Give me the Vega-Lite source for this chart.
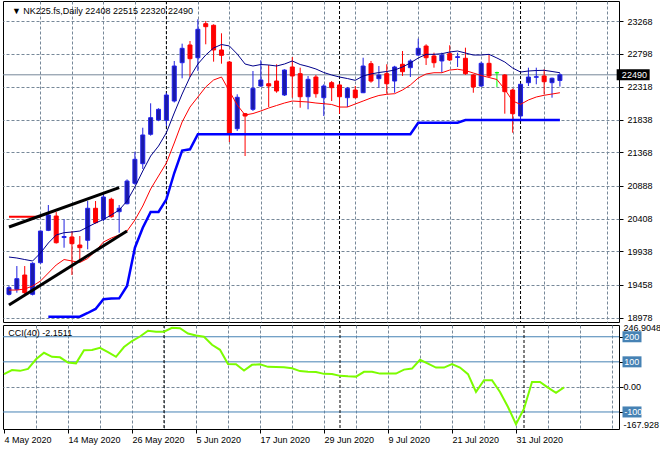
{
  "$schema": "https://vega.github.io/schema/vega-lite/v6.json",
  "padding": {"left": 2, "top": 0, "right": 0, "bottom": 0},
  "background": "white",
  "spacing": 3,
  "bounds": "flush",
  "config": {
    "font": "Liberation Sans",
    "view": {"stroke": "#000000", "strokeWidth": 1},
    "axis": {"labelFont": "Liberation Sans", "labelFontSize": 9, "labelColor": "#000000", "tickColor": "#000000", "gridColor": "#778899", "gridDash": [3, 2], "gridWidth": 1, "domain": false, "labelOverlap": false, "tickCount": 100}
  },
  "datasets": {
    "bars": [
      {"i":0,"o":19316,"h":19440,"l":19300,"c":19412,"m1":19855,"m2":19378,"lo":null,"cci":51},
      {"i":1,"o":19388,"h":19725,"l":19339,"c":19542,"m1":19841,"m2":19378,"lo":null,"cci":67},
      {"i":2,"o":19595,"h":19725,"l":19320,"c":19339,"m1":19819,"m2":19393,"lo":null,"cci":64},
      {"i":3,"o":19316,"h":19780,"l":19300,"c":19764,"m1":19798,"m2":19436,"lo":null,"cci":72},
      {"i":4,"o":19773,"h":20240,"l":19760,"c":20231,"m1":19913,"m2":19508,"lo":null,"cci":110},
      {"i":5,"o":20241,"h":20607,"l":20230,"c":20463,"m1":20058,"m2":19624,"lo":18992,"cci":136},
      {"i":6,"o":20448,"h":20506,"l":20050,"c":20062,"m1":20174,"m2":19740,"lo":18992,"cci":120},
      {"i":7,"o":20137,"h":20401,"l":19990,"c":20152,"m1":20207,"m2":19819,"lo":18992,"cci":118},
      {"i":8,"o":20145,"h":20231,"l":19595,"c":20048,"m1":20217,"m2":19798,"lo":18992,"cci":97},
      {"i":9,"o":20029,"h":20159,"l":19798,"c":19990,"m1":20231,"m2":19776,"lo":18992,"cci":94},
      {"i":10,"o":20097,"h":20665,"l":19967,"c":20560,"m1":20289,"m2":19834,"lo":19046,"cci":146},
      {"i":11,"o":20560,"h":20665,"l":20337,"c":20352,"m1":20347,"m2":19942,"lo":19104,"cci":147},
      {"i":12,"o":20401,"h":20785,"l":20376,"c":20723,"m1":20398,"m2":20072,"lo":19244,"cci":156},
      {"i":13,"o":20690,"h":20713,"l":20424,"c":20438,"m1":20463,"m2":20130,"lo":19255,"cci":139},
      {"i":14,"o":20511,"h":20607,"l":20207,"c":20560,"m1":20535,"m2":20174,"lo":19258,"cci":120},
      {"i":15,"o":20626,"h":20978,"l":20617,"c":20954,"m1":20665,"m2":20231,"lo":19436,"cci":159},
      {"i":16,"o":20921,"h":21378,"l":20900,"c":21268,"m1":20868,"m2":20390,"lo":19990,"cci":183},
      {"i":17,"o":21205,"h":21725,"l":21128,"c":21620,"m1":21099,"m2":20593,"lo":20279,"cci":201},
      {"i":18,"o":21630,"h":22078,"l":21610,"c":21870,"m1":21316,"m2":20839,"lo":20506,"cci":224},
      {"i":19,"o":21836,"h":22006,"l":21820,"c":21991,"m1":21460,"m2":21027,"lo":20506,"cci":220},
      {"i":20,"o":21832,"h":22231,"l":21750,"c":22198,"m1":21653,"m2":21215,"lo":20690,"cci":220},
      {"i":21,"o":22111,"h":22690,"l":22090,"c":22617,"m1":21938,"m2":21504,"lo":21070,"cci":236},
      {"i":22,"o":22665,"h":22940,"l":22439,"c":22873,"m1":22212,"m2":21808,"lo":21395,"cci":234},
      {"i":23,"o":22921,"h":22979,"l":22458,"c":22723,"m1":22458,"m2":22024,"lo":21413,"cci":213},
      {"i":24,"o":22737,"h":23293,"l":22545,"c":23148,"m1":22646,"m2":22169,"lo":21630,"cci":205},
      {"i":25,"o":23229,"h":23268,"l":22931,"c":23186,"m1":22776,"m2":22314,"lo":21630,"cci":200},
      {"i":26,"o":23206,"h":23220,"l":22680,"c":22849,"m1":22878,"m2":22415,"lo":21630,"cci":168},
      {"i":27,"o":22849,"h":23090,"l":22651,"c":22772,"m1":22928,"m2":22458,"lo":21630,"cci":148},
      {"i":28,"o":22675,"h":22690,"l":21518,"c":21630,"m1":22907,"m2":22256,"lo":21630,"cci":91},
      {"i":29,"o":21711,"h":22208,"l":21677,"c":22165,"m1":22791,"m2":22053,"lo":21630,"cci":90},
      {"i":30,"o":21928,"h":21938,"l":21316,"c":21894,"m1":22646,"m2":21909,"lo":21630,"cci":65},
      {"i":31,"o":21991,"h":22545,"l":21967,"c":22295,"m1":22617,"m2":21930,"lo":21630,"cci":88},
      {"i":32,"o":22328,"h":22700,"l":22314,"c":22415,"m1":22639,"m2":21967,"lo":21630,"cci":90},
      {"i":33,"o":22361,"h":22632,"l":22024,"c":22328,"m1":22632,"m2":22010,"lo":21630,"cci":80},
      {"i":34,"o":22400,"h":22642,"l":22231,"c":22256,"m1":22617,"m2":22046,"lo":21630,"cci":79},
      {"i":35,"o":22198,"h":22570,"l":22184,"c":22559,"m1":22646,"m2":22082,"lo":21630,"cci":78},
      {"i":36,"o":22603,"h":22747,"l":22159,"c":22473,"m1":22690,"m2":22111,"lo":21630,"cci":74},
      {"i":37,"o":22506,"h":22593,"l":22014,"c":22173,"m1":22639,"m2":22104,"lo":21630,"cci":63},
      {"i":38,"o":22173,"h":22473,"l":21991,"c":22425,"m1":22610,"m2":22097,"lo":21630,"cci":60},
      {"i":39,"o":22458,"h":22487,"l":22159,"c":22217,"m1":22574,"m2":22082,"lo":21630,"cci":59},
      {"i":40,"o":22159,"h":22353,"l":21894,"c":22328,"m1":22523,"m2":22072,"lo":21630,"cci":52},
      {"i":41,"o":22376,"h":22400,"l":22111,"c":22304,"m1":22487,"m2":22061,"lo":21630,"cci":51},
      {"i":42,"o":22343,"h":22361,"l":21928,"c":22173,"m1":22458,"m2":22024,"lo":21630,"cci":44},
      {"i":43,"o":22159,"h":22314,"l":22024,"c":22295,"m1":22436,"m2":22024,"lo":21630,"cci":42},
      {"i":44,"o":22270,"h":22328,"l":22150,"c":22159,"m1":22410,"m2":22068,"lo":21630,"cci":41},
      {"i":45,"o":22231,"h":22737,"l":22226,"c":22617,"m1":22473,"m2":22111,"lo":21630,"cci":60},
      {"i":46,"o":22651,"h":22690,"l":22376,"c":22400,"m1":22502,"m2":22155,"lo":21630,"cci":60},
      {"i":47,"o":22434,"h":22617,"l":22304,"c":22487,"m1":22523,"m2":22191,"lo":21630,"cci":53},
      {"i":48,"o":22506,"h":22642,"l":22217,"c":22361,"m1":22538,"m2":22208,"lo":21630,"cci":53},
      {"i":49,"o":22400,"h":22620,"l":22231,"c":22603,"m1":22559,"m2":22217,"lo":21630,"cci":53},
      {"i":50,"o":22642,"h":22834,"l":22473,"c":22535,"m1":22603,"m2":22270,"lo":21630,"cci":69},
      {"i":51,"o":22593,"h":22714,"l":22458,"c":22690,"m1":22661,"m2":22343,"lo":21630,"cci":73},
      {"i":52,"o":22776,"h":23012,"l":22762,"c":22873,"m1":22733,"m2":22444,"lo":21797,"cci":108},
      {"i":53,"o":22906,"h":22931,"l":22632,"c":22737,"m1":22786,"m2":22502,"lo":21797,"cci":93},
      {"i":54,"o":22762,"h":22810,"l":22593,"c":22665,"m1":22786,"m2":22520,"lo":21797,"cci":77},
      {"i":55,"o":22690,"h":22810,"l":22520,"c":22776,"m1":22795,"m2":22520,"lo":21797,"cci":77},
      {"i":56,"o":22795,"h":22917,"l":22690,"c":22704,"m1":22820,"m2":22559,"lo":21797,"cci":91},
      {"i":57,"o":22740,"h":22810,"l":22603,"c":22752,"m1":22834,"m2":22570,"lo":21797,"cci":77},
      {"i":58,"o":22729,"h":22882,"l":22490,"c":22506,"m1":22805,"m2":22552,"lo":21835,"cci":51},
      {"i":59,"o":22487,"h":22500,"l":22231,"c":22314,"m1":22776,"m2":22516,"lo":21835,"cci":-20},
      {"i":60,"o":22328,"h":22680,"l":22314,"c":22656,"m1":22776,"m2":22480,"lo":21835,"cci":27},
      {"i":61,"o":22656,"h":22787,"l":22458,"c":22473,"m1":22786,"m2":22451,"lo":21835,"cci":27},
      {"i":62,"o":22520,"h":22535,"l":22314,"c":22520,"m1":22733,"m2":22422,"lo":21835,"cci":-20},
      {"i":63,"o":22487,"h":22500,"l":21928,"c":22246,"m1":22675,"m2":22280,"lo":21835,"cci":-80},
      {"i":64,"o":22270,"h":22290,"l":21653,"c":21928,"m1":22588,"m2":22111,"lo":21835,"cci":-149},
      {"i":65,"o":21894,"h":22361,"l":21847,"c":22353,"m1":22530,"m2":22063,"lo":21835,"cci":-87},
      {"i":66,"o":22376,"h":22593,"l":22328,"c":22458,"m1":22545,"m2":22126,"lo":21835,"cci":20},
      {"i":67,"o":22454,"h":22593,"l":22353,"c":22463,"m1":22552,"m2":22169,"lo":21835,"cci":20},
      {"i":68,"o":22473,"h":22570,"l":22208,"c":22390,"m1":22555,"m2":22194,"lo":21835,"cci":-3},
      {"i":69,"o":22376,"h":22450,"l":22159,"c":22440,"m1":22538,"m2":22212,"lo":21835,"cci":-24},
      {"i":70,"o":22408,"h":22515,"l":22320,"c":22490,"m1":22520,"m2":22231,"lo":21835,"cci":-2.1511}
    ],
    "trend": [
      {"t":"a","i":0,"p":20289},{"t":"a","i":14,"p":20858},
      {"t":"b","i":0,"p":19161},{"t":"b","i":15,"p":20231}
    ],
    "hline": [{"i":0,"p":20438},{"i":4,"p":20438}],
    "seps": [{"i":20},{"i":42},{"i":65}],
    "levels": [{"level":200,"lab":"200"},{"level":100,"lab":"100"},{"level":-100,"lab":"-100"}],
    "head": [{"txt":"▼  NK225.fs,Daily  22408 22515 22320 22490","i":0.375,"p":23412}],
    "ccihead": [{"txt":"CCI(40) -2.1511","i":0.54,"v":216}]
  },
  "vconcat": [
    {
      "width": 616,
      "height": 321,
      "layer": [
        {
          "data": {"name": "seps"},
          "mark": {"type": "rule", "color": "#000000", "strokeDash": [3, 2], "strokeWidth": 1, "clip": true},
          "encoding": {
            "x": {"field": "i", "type": "quantitative", "title": null,
              "scale": {"domain": [-0.125, 76.875], "nice": false, "zero": false},
              "axis": {"orient": "bottom", "values": [0,4,8,12,16,20,24,28,32,36,40,44,48,52,56,60,64,68,72,76], "tickCount": 100, "labels": false, "ticks": false, "grid": true, "labelOverlap": false,
                "gridOpacity": {"condition": {"test": "datum.value == 0", "value": 0}, "value": 1}}}
          }
        },
        {
          "data": {"name": "bars"},
          "transform": [{"filter": "datum.i == 70"}],
          "mark": {"type": "rule", "color": "#778899", "strokeWidth": 1, "clip": true},
          "encoding": {
            "y": {"field": "c", "type": "quantitative", "title": null,
              "scale": {"domain": [18915.8, 23557.2], "nice": false, "zero": false},
              "axis": {"orient": "right", "values": [18978,19458,19938,20408,20888,21368,21838,22318,22798,23268], "tickCount": 100, "grid": true, "tickSize": 4, "labelPadding": 4, "format": "d", "labelOverlap": false}}
          }
        },
        {
          "data": {"name": "bars"},
          "mark": {"type": "rule", "strokeWidth": 1, "clip": true},
          "encoding": {
            "x": {"field": "i", "type": "quantitative", "title": null},
            "y": {"field": "l", "type": "quantitative", "title": null},
            "y2": {"field": "h"},
            "color": {"condition": [{"test": "datum.c == datum.o", "value": "#00ff00"}, {"test": "datum.c > datum.o", "value": "#2020e0"}], "value": "#ff0000"}
          }
        },
        {
          "data": {"name": "bars"},
          "mark": {"type": "bar", "width": 4, "strokeWidth": 1, "clip": true},
          "encoding": {
            "x": {"field": "i", "type": "quantitative", "title": null},
            "y": {"field": "o", "type": "quantitative", "title": null},
            "y2": {"field": "c"},
            "fill": {"condition": [{"test": "datum.c == datum.o", "value": "#00ff00"}, {"test": "datum.c > datum.o", "value": "#1a1aa8"}], "value": "#ff0000"},
            "stroke": {"condition": [{"test": "datum.c == datum.o", "value": "#00ff00"}, {"test": "datum.c > datum.o", "value": "#2222ee"}], "value": "#ff0000"}
          }
        },
        {
          "data": {"name": "bars"},
          "mark": {"type": "line", "color": "#0000ff", "strokeWidth": 2.5, "clip": true},
          "encoding": {
            "x": {"field": "i", "type": "quantitative", "title": null},
            "y": {"field": "lo", "type": "quantitative", "title": null}
          }
        },
        {
          "data": {"name": "bars"},
          "mark": {"type": "line", "color": "#00008b", "strokeWidth": 1, "clip": true},
          "encoding": {
            "x": {"field": "i", "type": "quantitative", "title": null},
            "y": {"field": "m1", "type": "quantitative", "title": null}
          }
        },
        {
          "data": {"name": "bars"},
          "mark": {"type": "line", "color": "#ff0000", "strokeWidth": 1, "clip": true},
          "encoding": {
            "x": {"field": "i", "type": "quantitative", "title": null},
            "y": {"field": "m2", "type": "quantitative", "title": null}
          }
        },
        {
          "data": {"name": "hline"},
          "mark": {"type": "line", "color": "#ff0000", "strokeWidth": 2, "clip": true},
          "encoding": {
            "x": {"field": "i", "type": "quantitative", "title": null},
            "y": {"field": "p", "type": "quantitative", "title": null}
          }
        },
        {
          "data": {"name": "trend"},
          "mark": {"type": "line", "color": "#000000", "strokeWidth": 3, "clip": true},
          "encoding": {
            "x": {"field": "i", "type": "quantitative", "title": null},
            "y": {"field": "p", "type": "quantitative", "title": null},
            "detail": {"field": "t"}
          }
        },
        {
          "data": {"name": "bars"},
          "transform": [{"filter": "datum.i == 70"}],
          "mark": {"type": "point", "shape": "M-1,-0.333H1V0.333H-1Z", "size": 1089, "filled": true, "color": "#000000", "opacity": 1, "strokeWidth": 0},
          "encoding": {
            "x": {"datum": 79.31, "type": "quantitative"},
            "y": {"field": "c", "type": "quantitative", "title": null}
          }
        },
        {
          "data": {"name": "bars"},
          "transform": [{"filter": "datum.i == 70"}],
          "mark": {"type": "text", "align": "left", "baseline": "middle", "color": "#ffffff", "fontSize": 9, "font": "Liberation Sans"},
          "encoding": {
            "x": {"datum": 77.875, "type": "quantitative"},
            "y": {"field": "c", "type": "quantitative", "title": null},
            "text": {"field": "c", "type": "quantitative", "format": "d"}
          }
        },
        {
          "data": {"name": "head"},
          "mark": {"type": "text", "align": "left", "baseline": "middle", "color": "#000000", "fontSize": 9, "font": "Liberation Sans", "clip": true},
          "encoding": {
            "x": {"field": "i", "type": "quantitative", "title": null},
            "y": {"field": "p", "type": "quantitative", "title": null},
            "text": {"field": "txt"}
          }
        }
      ]
    },
    {
      "width": 616,
      "height": 104,
      "layer": [
        {
          "data": {"name": "levels"},
          "mark": {"type": "rule", "color": "#4682b4", "strokeWidth": 1, "clip": true},
          "encoding": {
            "y": {"field": "level", "type": "quantitative", "title": null,
              "scale": {"domain": [-167.928, 246.9048], "nice": false, "zero": false},
              "axis": {"orient": "right", "values": [246.9048, 200, 100, 0, -100, -167.928], "tickCount": 100, "grid": true, "tickSize": 4, "labelPadding": 0, "labelFlush": false, "labelOverlap": false,
                "labelBaseline": {"condition": {"test": "datum.value == -167.928", "value": "bottom"}, "value": "middle"},
                "labelOffset": {"condition": {"test": "datum.value == 246.9048", "value": 2}, "value": 0},
                "gridOpacity": {"condition": {"test": "datum.value == 0", "value": 1}, "value": 0},
                "tickOpacity": {"condition": {"test": "datum.value == 246.9048 || datum.value == -167.928", "value": 0}, "value": 1},
                "labelExpr": "datum.value == 0 ? '0.00' : (datum.value == 200 || datum.value == 100 || datum.value == -100) ? '' : '' + datum.value"}}
          }
        },
        {
          "data": {"name": "seps"},
          "mark": {"type": "rule", "color": "#000000", "strokeDash": [3, 2], "strokeWidth": 1, "clip": true},
          "encoding": {
            "x": {"field": "i", "type": "quantitative", "title": null,
              "scale": {"domain": [-0.125, 76.875], "nice": false, "zero": false},
              "axis": {"orient": "bottom", "values": [0,4,8,12,16,20,24,28,32,36,40,44,48,52,56,60,64,68,72,76], "tickCount": 100, "grid": true, "tickSize": 4, "labelPadding": 2, "labelAlign": "left", "labelBaseline": "top", "labelFlush": false, "labelOverlap": false,
                "gridOpacity": {"condition": {"test": "datum.value == 0", "value": 0}, "value": 1},
                "tickOpacity": {"condition": {"test": "datum.value % 8 == 0 && datum.value <= 64", "value": 1}, "value": 0},
                "labelExpr": "datum.value % 8 == 0 && datum.value <= 64 ? ['4 May 2020','14 May 2020','26 May 2020','5 Jun 2020','17 Jun 2020','29 Jun 2020','9 Jul 2020','21 Jul 2020','31 Jul 2020'][datum.value / 8] : ''"}}
          }
        },
        {
          "data": {"name": "bars"},
          "mark": {"type": "line", "color": "#7cfc00", "strokeWidth": 2, "clip": true},
          "encoding": {
            "x": {"field": "i", "type": "quantitative", "title": null},
            "y": {"field": "cci", "type": "quantitative", "title": null}
          }
        },
        {
          "data": {"name": "levels"},
          "mark": {"type": "point", "shape": "M-1,-0.58H1V0.58H-1Z", "size": 361, "filled": true, "color": "#4682b4", "opacity": 1, "strokeWidth": 0},
          "encoding": {
            "x": {"datum": 78.5, "type": "quantitative"},
            "y": {"field": "level", "type": "quantitative", "title": null}
          }
        },
        {
          "data": {"name": "levels"},
          "mark": {"type": "text", "align": "left", "baseline": "middle", "color": "#ffffff", "fontSize": 9, "font": "Liberation Sans"},
          "encoding": {
            "x": {"datum": 77.54, "type": "quantitative"},
            "y": {"field": "level", "type": "quantitative", "title": null},
            "text": {"field": "lab"}
          }
        },
        {
          "data": {"name": "ccihead"},
          "mark": {"type": "text", "align": "left", "baseline": "middle", "color": "#000000", "fontSize": 9, "font": "Liberation Sans", "clip": true},
          "encoding": {
            "x": {"field": "i", "type": "quantitative", "title": null},
            "y": {"field": "v", "type": "quantitative", "title": null},
            "text": {"field": "txt"}
          }
        }
      ]
    }
  ]
}
